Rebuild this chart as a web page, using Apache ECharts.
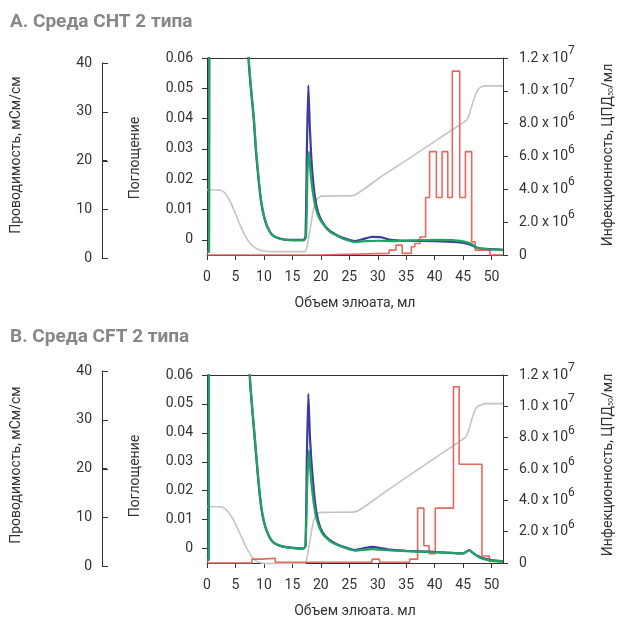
<!DOCTYPE html>
<html><head><meta charset="utf-8">
<script src="https://cdn.jsdelivr.net/npm/echarts@6/dist/echarts.min.js"></script>
<style>html,body{margin:0;padding:0;background:#fff}#c{width:622px;height:619px}</style>
</head><body><div id="c"></div>
<script>
// ---- tick values / labels ----
const xTicks = [0, 5, 10, 15, 20, 25, 30, 35, 40, 45, 50];
const absTicks = [0, 0.01, 0.02, 0.03, 0.04, 0.05, 0.06];
const absTickLabels = ['0', '0.01', '0.02', '0.03', '0.04', '0.05', '0.06'];
const condTicks = [0, 10, 20, 30, 40];
const infTicks = [0, 2e6, 4e6, 6e6, 8e6, 1e7, 1.2e7];
const infTickLabels = ['0', '2.0 x 10{e|6}', '4.0 x 10{e|6}', '6.0 x 10{e|6}', '8.0 x 10{e|6}', '1.0 x 10{e|7}', '1.2 x 10{e|7}'];

// ---- Panel A: CHT ----
const chtBlue = [[0,-0.004],[0.35,-0.004],[0.5,0.2],[7.0,0.2],[7.3,0.06],[7.7,0.05],[8.2,0.04],[8.6,0.029],[9.1,0.019],[9.5,0.0125],[10,0.0077],[10.6,0.0042],[11.4,0.0017],[12.5,0.0006],[13.8,0.0001],[16.9,0],[17.3,0.001],[17.55,0.03],[17.8,0.051],[18.05,0.038],[18.4,0.025],[18.9,0.015],[19.5,0.0092],[20.3,0.0058],[21.4,0.0032],[22.6,0.0018],[24,0.0006],[26,-0.0004],[27.5,0.0003],[29,0.001],[30.5,0.0009],[32,0.0001],[35,-0.0003],[40,-0.0004],[44,-0.0008],[46,-0.0014],[47.5,-0.0026],[49,-0.003],[52,-0.0033]];
const chtGreen = [[0,-0.004],[0.35,-0.004],[0.5,0.2],[7.0,0.2],[7.35,0.06],[7.75,0.05],[8.25,0.04],[8.65,0.029],[9.15,0.019],[9.55,0.0125],[10.05,0.0077],[10.65,0.0042],[11.45,0.0017],[12.5,0.0005],[13.8,0],[17.0,-0.0002],[17.4,0.001],[17.65,0.022],[17.9,0.029],[18.2,0.022],[18.6,0.0155],[19.1,0.0105],[19.7,0.0072],[20.4,0.0052],[21.5,0.0028],[22.7,0.0015],[24,0.0003],[26,-0.0007],[28,-0.0004],[30,-0.0003],[33,-0.0004],[36,-0.0002],[40,0.0],[43,-0.0001],[45,-0.0005],[46.3,-0.0012],[47.6,-0.0027],[49.5,-0.0031],[52,-0.0034]];
const chtCond = [[0,14],[2.3,13.9],[3.0,13.5],[3.7,12.4],[4.4,10.8],[5.1,8.8],[5.8,6.8],[6.5,5.0],[7.2,3.6],[7.9,2.6],[8.6,2.0],[9.4,1.6],[10.3,1.4],[11.5,1.3],[17.2,1.3],[17.6,2.5],[18.2,6.5],[18.8,10.5],[19.4,12.2],[20.1,12.7],[25.6,12.8],[30.6,16.7],[35.6,20.5],[40.6,24.4],[45.6,28.3],[46.1,29.6],[46.6,31.5],[47.1,33.3],[47.6,34.5],[48.2,35.1],[49,35.3],[52,35.3]];
const chtInf = [[0,0],[19.5,1e5],[32.0,3e5],[33.2,6e5],[34.3,1e5],[35.9,5e5],[36.5,7e5],[37.4,1.1e6],[38.4,3.5e6],[39.1,6.3e6],[40.3,3.5e6],[41.3,6.3e6],[42.3,3.5e6],[43.1,1.12e7],[44.4,3.5e6],[45.4,6.3e6],[46.5,8e5],[47.1,3e5],[49.7,0],[52,0]];

// ---- Panel B: CFT ----
const cftBlue = [[0,-0.004],[0.3,-0.004],[0.45,0.2],[7.1,0.2],[7.5,0.06],[7.9,0.049],[8.4,0.0375],[8.85,0.027],[9.3,0.0177],[9.7,0.012],[10.2,0.0077],[10.9,0.0042],[11.6,0.0022],[12.6,0.0011],[13.7,0.0006],[16.9,0],[17.3,0.001],[17.55,0.032],[17.8,0.0535],[18.1,0.038],[18.6,0.0237],[19.2,0.0128],[19.9,0.0072],[20.7,0.0045],[21.6,0.0029],[22.8,0.0015],[24,0.0006],[26,-0.0005],[27.5,0.0001],[29,0.0006],[30.5,0.0002],[32,-0.0004],[35,-0.0008],[39,-0.0011],[42,-0.0014],[45,-0.0017],[45.7,-0.0009],[46.1,-0.0005],[46.6,-0.0013],[47.5,-0.0025],[48.4,-0.0033],[50,-0.004],[52,-0.0044]];
const cftGreen = [[0,-0.004],[0.3,-0.004],[0.45,0.2],[7.1,0.2],[7.55,0.06],[7.95,0.049],[8.45,0.0375],[8.9,0.027],[9.35,0.0177],[9.75,0.012],[10.25,0.0077],[10.95,0.0042],[11.65,0.0022],[12.6,0.0011],[13.7,0.0005],[16.9,-0.0001],[17.3,0.0008],[17.6,0.022],[17.9,0.034],[18.2,0.026],[18.6,0.018],[19.1,0.0115],[19.7,0.0075],[20.4,0.0048],[21.6,0.0026],[22.8,0.0013],[24,0.0004],[26,-0.0007],[29,-0.0002],[31,-0.0005],[35,-0.0009],[39,-0.0012],[42,-0.0014],[45,-0.0017],[45.7,-0.001],[46.1,-0.0006],[46.6,-0.0014],[47.5,-0.0027],[48.4,-0.0035],[50,-0.0042],[52,-0.0045]];
const cftCond = [[0,12.2],[2.5,12.1],[3.2,11.7],[3.9,10.8],[4.6,9.5],[5.3,7.9],[6.0,6.1],[6.7,4.3],[7.4,2.8],[8.1,1.6],[8.8,0.9],[9.6,0.6],[10.5,0.5],[17.2,0.5],[17.6,2.0],[18.2,6.0],[18.7,9.2],[19.3,10.7],[20,11.0],[26,11.1],[30.9,14.9],[35.8,18.8],[40.6,22.6],[45.5,26.5],[46.0,28.0],[46.5,30.0],[47.0,31.8],[47.5,32.7],[48.2,33.1],[49,33.3],[52,33.3]];
const cftInf = [[0,0],[7.9,2.5e5],[9.5,3e5],[12,5e4],[29,2.5e5],[30.3,5e4],[35.6,2.5e5],[37,3.5e6],[38.1,1.1e6],[39,6e5],[40.1,3.5e6],[43.3,1.125e7],[44.3,6.3e6],[48.3,4.5e5],[49.6,1e5],[51,0],[52,0]];

const titles = ['A. Среда CHT 2 типа', 'B. Среда CFT 2 типа'];
const xNames = ['Объем элюата, мл', 'Объем элюата. мл'];
const condName = 'Проводимость, мСм/см';
const absName = 'Поглощение';
const infName = 'Инфекционность, ЦПД{s|50}/мл';

const FONT = 'Roboto';
const TXT = '#333';
const LINE = () => ({ show: true, onZero: false, lineStyle: { color: '#333', width: 1 } });

// layout (pixels)
const PLOT_L = 207, PLOT_W = 296, COND_AXIS_X = 102, X_MAX = 52, COND_MAX = 40;
const condXMin = -X_MAX * (PLOT_L - COND_AXIS_X) / PLOT_W;

const chart = echarts.init(document.getElementById('c'), null, { renderer: 'canvas' });

const panels = [
  { top: 58, h: 197, cTop: 63, cH: 195, blue: chtBlue, green: chtGreen, cond: chtCond, inf: chtInf, titleY: 23, nameY: 155, absY: 158 },
  { top: 375, h: 196, cTop: 371, cH: 195, blue: cftBlue, green: cftGreen, cond: cftCond, inf: cftInf, titleY: 338, nameY: 465, absY: 476 }
];

const grid = [], xAxis = [], yAxis = [], series = [], graphic = [];
panels.forEach((p, i) => {
  const g0 = grid.length;
  grid.push({ left: PLOT_L, width: PLOT_W, top: p.top, height: p.h });
  grid.push({ left: COND_AXIS_X, width: PLOT_L + PLOT_W - COND_AXIS_X, top: p.cTop, height: p.cH });
  const xi = xAxis.length;
  xAxis.push({
    type: 'value', gridIndex: g0, min: 0, max: X_MAX, position: 'bottom',
    name: xNames[i], nameLocation: 'middle', nameGap: 41,
    nameTextStyle: { fontFamily: FONT, fontSize: 14, color: TXT },
    axisLine: LINE(), splitLine: { show: false },
    axisTick: { show: true, length: 5, lineStyle: { color: '#333' }, customValues: xTicks },
    axisLabel: { fontFamily: FONT, fontSize: 14, color: TXT, margin: 15, customValues: xTicks }
  });
  xAxis.push({
    type: 'value', gridIndex: g0, min: 0, max: X_MAX, position: 'top',
    axisLine: LINE(), axisTick: { show: false }, axisLabel: { show: false }, splitLine: { show: false }
  });
  xAxis.push({ type: 'value', gridIndex: g0 + 1, min: condXMin, max: X_MAX, show: false });
  const yi = yAxis.length;
  yAxis.push({
    type: 'value', gridIndex: g0, min: -0.005, max: 0.06, position: 'left',
    axisLine: LINE(), splitLine: { show: false },
    axisTick: { show: true, length: 5, lineStyle: { color: '#333' }, customValues: absTicks },
    axisLabel: { fontFamily: FONT, fontSize: 14, color: TXT, margin: 14, customValues: absTicks,
      formatter: v => absTickLabels[absTicks.findIndex(t => Math.abs(t - v) < 1e-9)] }
  });
  yAxis.push({
    type: 'value', gridIndex: g0, min: 0, max: 1.2e7, interval: 2e6, position: 'right',
    axisLine: LINE(), splitLine: { show: false },
    axisTick: { show: true, length: 5, lineStyle: { color: '#333' } },
    axisLabel: { fontFamily: FONT, fontSize: 14, color: TXT, margin: 16, lineHeight: 26,
      formatter: v => infTickLabels[infTicks.findIndex(t => Math.abs(t - v) < 1)],
      rich: { e: { fontFamily: FONT, fontSize: 12, color: TXT, verticalAlign: 'top' } } }
  });
  yAxis.push({
    type: 'value', gridIndex: g0 + 1, min: 0, max: COND_MAX, position: 'left',
    axisLine: LINE(), splitLine: { show: false },
    axisTick: { show: true, inside: true, length: 5, lineStyle: { color: '#333' }, customValues: condTicks },
    axisLabel: { fontFamily: FONT, fontSize: 14, color: TXT, margin: 10, customValues: condTicks }
  });
  series.push({ type: 'line', xAxisIndex: xi + 2, yAxisIndex: yi + 2, data: p.cond, showSymbol: false, smooth: 0.15,
    lineStyle: { color: '#c4c4c4', width: 1.6 }, z: 2 });
  series.push({ type: 'line', xAxisIndex: xi, yAxisIndex: yi + 1, data: p.inf, showSymbol: false, step: 'end',
    lineStyle: { color: '#e8675f', width: 1.6 }, z: 3 });
  series.push({ type: 'line', xAxisIndex: xi, yAxisIndex: yi, data: p.blue, showSymbol: false, smooth: 0.2,
    lineStyle: { color: '#3c3b9e', width: 2.2 }, z: 4 });
  series.push({ type: 'line', xAxisIndex: xi, yAxisIndex: yi, data: p.green, showSymbol: false, smooth: 0.2,
    lineStyle: { color: '#21a263', width: 2.2 }, z: 5 });

  graphic.push({ type: 'text', left: 10, top: p.titleY - 10,
    style: { text: titles[i], fontFamily: FONT, fontSize: 19, fontWeight: 'bold', fill: '#878787' } });
  graphic.push({ type: 'text', x: 16, y: p.nameY, rotation: Math.PI / 2,
    style: { text: condName, fontFamily: FONT, fontSize: 14, fill: TXT, align: 'center', verticalAlign: 'middle' } });
  graphic.push({ type: 'text', x: 135, y: p.absY, rotation: Math.PI / 2,
    style: { text: absName, fontFamily: FONT, fontSize: 14, fill: TXT, align: 'center', verticalAlign: 'middle' } });
  graphic.push({ type: 'text', x: 608, y: p.nameY, rotation: Math.PI / 2,
    style: { text: infName, fontFamily: FONT, fontSize: 14, fill: TXT, align: 'center', verticalAlign: 'middle',
      rich: { s: { fontFamily: FONT, fontSize: 7, fill: TXT, verticalAlign: 'bottom' } } } });

  // conductivity axis line + inward ticks (the library leaves them unpainted here);
  // placed from the same grid layout that positions the conductivity axis labels
  const ax = COND_AXIS_X + 0.5;
  const yOf = v => p.cTop + p.cH * (1 - v / COND_MAX);
  graphic.push({ type: 'rect', z: 100, silent: true,
    shape: { x: COND_AXIS_X, y: Math.round(p.cTop), width: 1, height: Math.round(p.cH) + 1 },
    style: { fill: '#333' } });
  condTicks.forEach(v => {
    graphic.push({ type: 'rect', z: 100, silent: true,
      shape: { x: COND_AXIS_X, y: Math.round(yOf(v)), width: 6, height: 1 },
      style: { fill: '#333' } });
  });
});

chart.setOption({ animation: false, backgroundColor: '#fff', grid, xAxis, yAxis, series, graphic });
</script>
</body></html>
